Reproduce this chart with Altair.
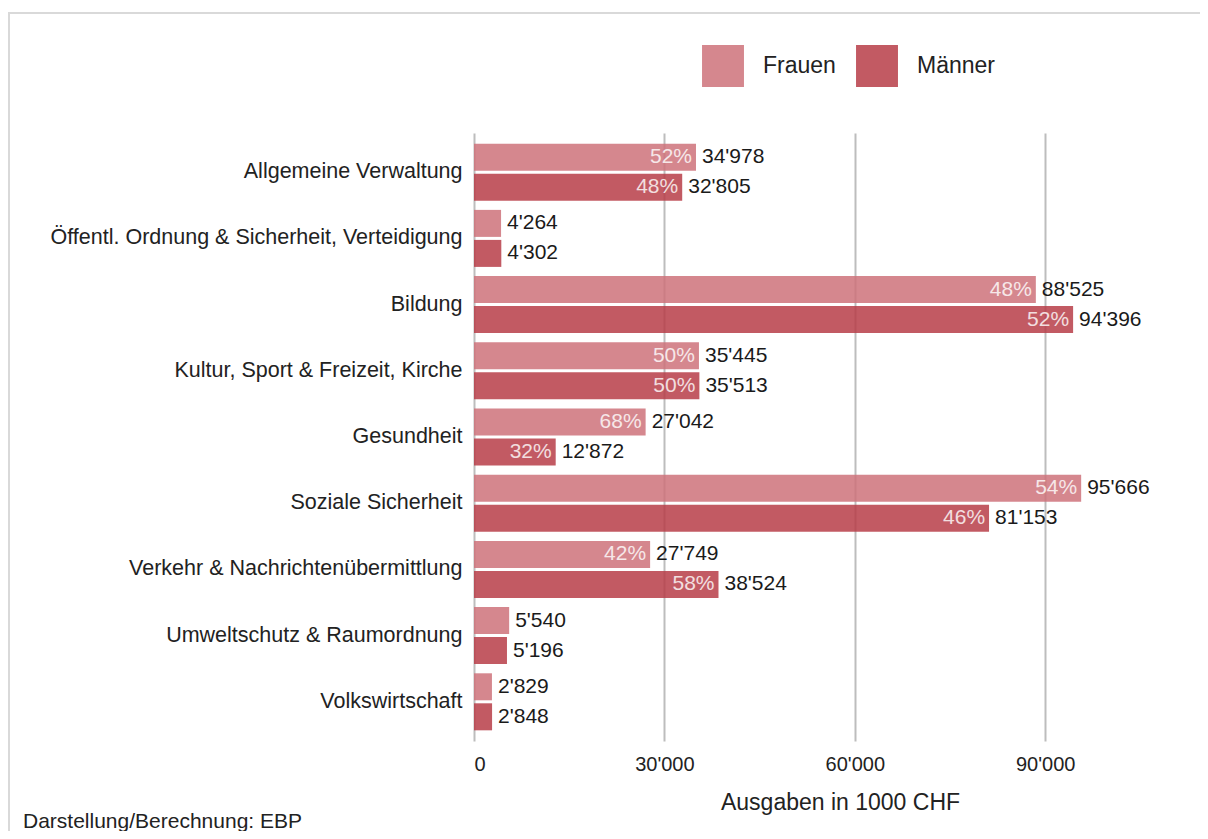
import altair as alt
import pandas as pd

categories = [
    "Allgemeine Verwaltung",
    "Öffentl. Ordnung & Sicherheit, Verteidigung",
    "Bildung",
    "Kultur, Sport & Freizeit, Kirche",
    "Gesundheit",
    "Soziale Sicherheit",
    "Verkehr & Nachrichtenübermittlung",
    "Umweltschutz & Raumordnung",
    "Volkswirtschaft",
]
frauen = [34978, 4264, 88525, 35445, 27042, 95666, 27749, 5540, 2829]
maenner = [32805, 4302, 94396, 35513, 12872, 81153, 38524, 5196, 2848]
frauen_pct = ["52%", "", "48%", "50%", "68%", "54%", "42%", "", ""]
maenner_pct = ["48%", "", "52%", "50%", "32%", "46%", "58%", "", ""]
groups = ["Frauen", "Männer"]
colors = ["#ce727a", "#b73d48"]
x_ticks = [0, 30000, 60000, 90000]
x_title = "Ausgaben in 1000 CHF"
caption = "Darstellung/Berechnung: EBP"

rows = []
for i, c in enumerate(categories):
    for g, vals, pcts in [("Frauen", frauen, frauen_pct), ("Männer", maenner, maenner_pct)]:
        v = vals[i]
        rows.append({
            "Kategorie": c,
            "Geschlecht": g,
            "Wert": v,
            "Label": f"{v:,}".replace(",", "'"),
            "Pct": pcts[i],
        })
df = pd.DataFrame(rows)

FONT = "Liberation Sans"

y_enc = alt.Y("Kategorie:N", sort=categories, title=None,
              scale=alt.Scale(paddingInner=0, paddingOuter=0.092),
              axis=alt.Axis(labelFontSize=21.5, labelColor="#222222", labelPadding=12,
                            labelLimit=600, ticks=False, domain=False, grid=False))
yoff = alt.YOffset("Geschlecht:N", sort=groups,
                   scale=alt.Scale(paddingInner=0.1, paddingOuter=0.153))
x_enc = alt.X("Wert:Q", title=x_title,
              scale=alt.Scale(domain=[0, 113130], nice=False, zero=True),
              axis=alt.Axis(values=x_ticks, grid=True, gridColor="#bdbdbd", gridWidth=2,
                            ticks=False, domain=False, labelFontSize=20, labelColor="#222222",
                            labelPadding=13,
                            labelExpr="replace(format(datum.value, ','), ',', \"'\")",
                            titleFontSize=23, titleFontWeight="normal", titleColor="#222222",
                            titleX=366, titleY=68, titleBaseline="alphabetic",
                            titleAlign="center"))

base = alt.Chart(df)

bars = base.mark_bar(opacity=0.85).encode(
    x=x_enc,
    y=y_enc,
    yOffset=yoff,
    color=alt.Color("Geschlecht:N", sort=groups,
                    scale=alt.Scale(domain=groups, range=colors),
                    legend=alt.Legend(title=None, orient="none", legendX=228, legendY=-88,
                                      direction="horizontal", symbolType="square",
                                      symbolSize=1760, symbolOpacity=0.85, symbolStrokeWidth=0,
                                      labelFontSize=23, labelColor="#222222", labelOffset=19,
                                      columnPadding=20, padding=0)),
)

values = base.mark_text(align="left", baseline="middle", dx=6, fontSize=21,
                        color="#1a1a1a", font=FONT).encode(
    x="Wert:Q", y=alt.Y("Kategorie:N", sort=categories), yOffset=yoff, text="Label:N")

pcts = base.mark_text(align="right", baseline="middle", dx=-4, fontSize=21,
                      color="#ffffff", opacity=0.8, font=FONT).encode(
    x="Wert:Q", y=alt.Y("Kategorie:N", sort=categories), yOffset=yoff, text="Pct:N")

deco = alt.Chart(pd.DataFrame({"t": [caption]}))
frame = deco.mark_rect(filled=False, stroke="#d9d9d9", strokeWidth=2).encode(
    x=alt.value(-465), x2=alt.value(1400), y=alt.value(-120), y2=alt.value(900))
cap = deco.mark_text(align="left", baseline="middle", fontSize=21, color="#222222",
                     font=FONT).encode(x=alt.value(-451), y=alt.value(689), text="t:N")

chart = alt.layer(frame, bars, values, pcts, cap).properties(
    width=718, height=608,
    autosize=alt.AutoSizeParams(type="none"),
    padding={"left": 466, "top": 125, "right": 8, "bottom": 90},
    background="white",
).configure(font=FONT).configure_view(stroke=None)

chart.save("out.html", embed_options={"renderer": "svg", "actions": False})
